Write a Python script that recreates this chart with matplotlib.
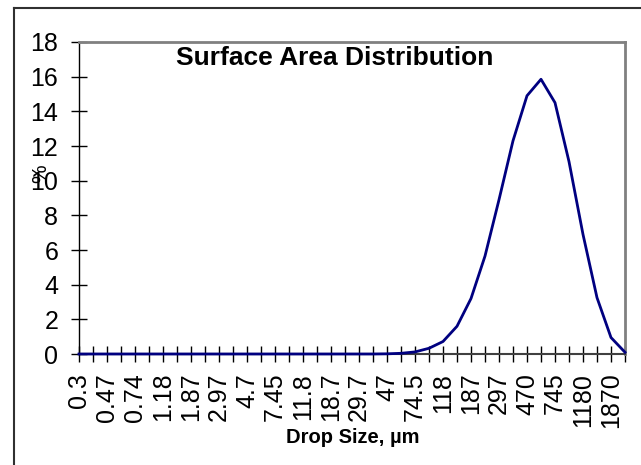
import matplotlib
matplotlib.use('Agg')
import matplotlib.pyplot as plt
from matplotlib.lines import Line2D

plt.rcParams['font.family'] = ['Liberation Sans', 'DejaVu Sans']

# drop size classes (um) and surface area percentage
sizes = ['0.3', '0.37', '0.47', '0.59', '0.74', '0.94', '1.18', '1.49', '1.87', '2.36',
         '2.97', '3.74', '4.7', '5.92', '7.45', '9.39', '11.8', '14.9', '18.7', '23.6',
         '29.7', '37.4', '47', '59.2', '74.5', '93.9', '118', '149', '187', '236',
         '297', '374', '470', '592', '745', '939', '1180', '1490', '1870', '2360']
area_pct = [0, 0, 0, 0, 0, 0, 0, 0, 0, 0,
            0, 0, 0, 0, 0, 0, 0, 0, 0, 0,
            0, 0, 0.01, 0.04, 0.12, 0.33, 0.72, 1.6, 3.2, 5.65,
            8.9, 12.3, 14.9, 15.85, 14.5, 11.1, 6.9, 3.25, 0.95, 0.1]

W, H = 641, 465
fig = plt.figure(figsize=(W / 100, H / 100), dpi=100)
ax = fig.add_axes([79 / W, 1 - 354 / H, 546 / W, 312 / H])

x = list(range(len(sizes)))
ax.plot(x, area_pct, color='#000080', lw=2, clip_on=False, zorder=3)

ax.set_xlim(0, len(sizes) - 1)
ax.set_ylim(0, 18)
ax.set_yticks(range(0, 19, 2))
ax.set_xticks(x)
ax.set_xticklabels([s if i % 2 == 0 else '' for i, s in enumerate(sizes)], rotation=90)

ax.tick_params(axis='both', direction='inout', length=11, width=1, colors='black', labelsize=18)
ax.tick_params(axis='y', pad=9.5)
ax.tick_params(axis='x', pad=8)

for side in ['top', 'right']:
    ax.spines[side].set_color('#808080')
    ax.spines[side].set_linewidth(2)
ax.spines['left'].set_color('black')
ax.spines['left'].set_linewidth(1)
ax.spines['bottom'].set_color('#404040')
ax.spines['bottom'].set_linewidth(1.5)

fig.text(335 / W, 1 - 58 / H, 'Surface Area Distribution', fontsize=19, fontweight='bold',
         ha='center', va='center')
fig.text(353 / W, 1 - 437 / H, 'Drop Size, µm', fontsize=14.5, fontweight='bold',
         ha='center', va='center')
# y title sits on top of the "10" label, as in the original
fig.text(41 / W, 1 - 174 / H, '%', fontsize=15, rotation=90, ha='center', va='center')

# outer chart frame
fig.add_artist(Line2D([14 / W, 14 / W], [0, 1 - 8 / H], color='#303030', lw=1.5))
fig.add_artist(Line2D([14 / W, 1], [1 - 8 / H, 1 - 8 / H], color='#303030', lw=1.5))

fig.savefig('out.png', dpi=100)
